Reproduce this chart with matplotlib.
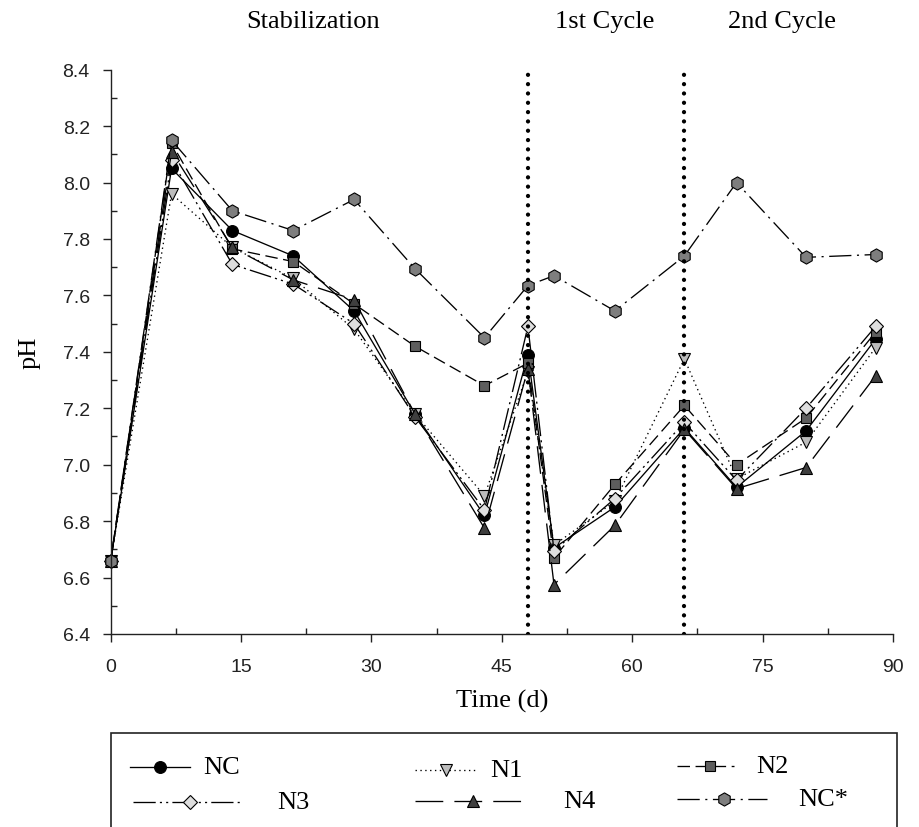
import numpy as np
import matplotlib
matplotlib.use("Agg")
from matplotlib import pyplot as plt
from matplotlib.lines import Line2D
from matplotlib.patches import Rectangle

plt.rcParams['lines.scale_dashes'] = False

days = [0, 7, 14, 21, 28, 35, 43, 48, 51, 58, 66, 72, 80, 88]
nc = [6.66, 8.05, 7.83, 7.74, 7.545, 7.18, 6.82, 7.39, 6.705, 6.85, 7.13, 6.92, 7.12, 7.445]
n1 = [6.66, 7.96, 7.77, 7.66, 7.48, 7.18, 6.89, 7.33, 6.715, 6.87, 7.375, 6.95, 7.08, 7.415]
n2 = [6.66, 8.14, 7.765, 7.72, 7.57, 7.42, 7.28, 7.36, 6.67, 6.93, 7.21, 7.00, 7.165, 7.47]
n3 = [6.66, 8.08, 7.71, 7.64, 7.50, 7.17, 6.84, 7.49, 6.695, 6.88, 7.15, 6.945, 7.20, 7.49]
n4 = [6.66, 8.11, 7.77, 7.655, 7.585, 7.18, 6.775, 7.34, 6.575, 6.785, 7.125, 6.915, 6.99, 7.315]
nc_star = [6.66, 8.15, 7.90, 7.83, 7.94, 7.695, 7.45, 7.635, 7.67, 7.545, 7.74, 8.00, 7.735, 7.745]

phase_lines = [48, 66]
phase_names = ['Stabilization', '1st Cycle', '2nd Cycle']
labels = ['NC', 'N1', 'N2', 'N3', 'N4', 'NC*']

# style per series: linestyle, marker, face, size
styles = {
    'NC': ('-', 'o', 'black', 8.5),
    'N1': ((0, (1, 2.5)), 'v', '#bdbdbd', 9),
    'N2': ((0, (9, 4)), 's', '#5e5e5e', 7.5),
    'N3': ((0, (16, 3, 1.5, 3, 1.5, 3)), 'D', '#dedede', 7.5),
    'N4': ((0, (20, 8)), '^', '#3f3f3f', 9),
    'NC*': ((0, (16, 4, 1.5, 4)), 'h', '#7e7e7e', 9.5),
}
series = {'NC': nc, 'N1': n1, 'N2': n2, 'N3': n3, 'N4': n4, 'NC*': nc_star}

W, H = 919, 828
fig = plt.figure(figsize=(W / 100, H / 100), dpi=100)
ax = fig.add_axes([110.7 / W, 1 - 635 / H, (893 - 110.7) / W, (635 - 70.7) / H])

for name in labels:
    ls, mk, fc, ms = styles[name]
    ax.plot(days, series[name], linestyle=ls, color='black', lw=0.95,
            marker=mk, markerfacecolor=fc, markeredgecolor='black',
            markeredgewidth=0.8, markersize=ms, clip_on=False)

for d in phase_lines:
    ax.axvline(d, color='black', lw=3.1, linestyle=(0, (0.01, 6.7)),
               dash_capstyle='round', zorder=5)

ax.set_xlim(0, 90)
ax.set_ylim(6.4, 8.4)
ax.set_xticks(np.arange(0, 91, 15))
ax.set_xticks(np.arange(7.5, 90, 15), minor=True)
ax.set_yticks(np.round(np.arange(6.4, 8.41, 0.2), 1))
ax.set_yticks(np.round(np.arange(6.5, 8.4, 0.2), 1), minor=True)
ax.set_yticklabels(['%.1f' % v for v in np.arange(6.4, 8.41, 0.2)])
for s in ['top', 'right']:
    ax.spines[s].set_visible(False)
for s in ['left', 'bottom']:
    ax.spines[s].set_linewidth(1.0)
    ax.spines[s].set_color('#222222')
ax.tick_params(which='major', direction='out', length=6, width=1.0,
               labelsize=14, colors='#222222')
ax.tick_params(axis='x', which='major', pad=11)
ax.tick_params(axis='y', which='major', pad=9)
ax.tick_params(which='minor', direction='in', length=4, width=1.0, colors='#222222')
for lab in ax.get_xticklabels() + ax.get_yticklabels():
    lab.set_family('Liberation Sans')

serif = 'Liberation Serif'
ax.set_xlabel('Time (d)', family=serif, fontsize=19, labelpad=10)
ax.set_ylabel('pH', family=serif, fontsize=19, labelpad=16)

for name, xc in zip(phase_names, [313, 605, 782]):
    fig.text(xc / W, 1 - 22 / H, name, family=serif, fontsize=19,
             ha='center', va='center')

# legend box drawn by hand, SigmaPlot style
fig.add_artist(Rectangle((110.7 / W, -0.02), (896.7 - 110.7) / W, (1 - 734 / H) + 0.02,
                         transform=fig.transFigure, fill=False, lw=1.2,
                         edgecolor='#222222', clip_on=False))

# label, handle start, handle end, marker x, text x, row y  (pixels)
legend_layout = [
    ('NC', 130, 190, 160, 203, 768),
    ('N1', 415, 476, 446, 490, 771),
    ('N2', 677, 734, 710, 756, 767),
    ('N3', 133, 243, 190, 277, 803),
    ('N4', 415, 523, 473, 563, 802),
    ('NC*', 677, 767, 724, 798, 800),
]
for name, x0, x1, xm, xt, yr in legend_layout:
    ls, mk, fc, ms = styles[name]
    yf = 1 - yr / H
    fig.add_artist(Line2D([x0 / W, x1 / W], [yf, yf], transform=fig.transFigure,
                          linestyle=ls, color='black', lw=0.95))
    fig.add_artist(Line2D([xm / W], [yf], transform=fig.transFigure,
                          marker=mk, markerfacecolor=fc, markeredgecolor='black',
                          markeredgewidth=0.8, markersize=ms, linestyle='none'))
    fig.text(xt / W, yf, name, family=serif, fontsize=19, ha='left', va='center')

fig.savefig('out.png', dpi=100)
